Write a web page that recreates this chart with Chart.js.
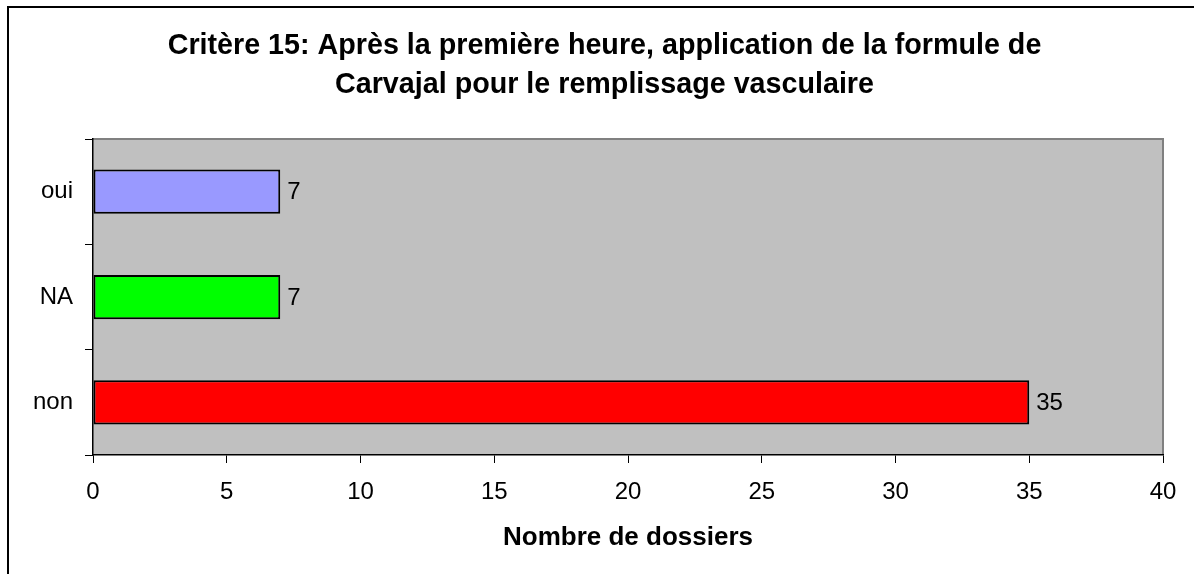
<!DOCTYPE html>
<html>
<head>
<meta charset="utf-8">
<script src="https://cdn.jsdelivr.net/npm/chart.js@4/dist/chart.umd.min.js"></script>
<style>
  body { margin: 0; background: #ffffff; }
  canvas { display: block; }
</style>
</head>
<body>
<canvas id="critereChart" width="1194" height="574"></canvas>
<script>
// Critère 15 - number of files per answer
const categories = ['oui', 'NA', 'non'];
const counts = [7, 7, 35];
const barColors = ['#9999ff', '#00ff00', '#ff0000'];
const xTicks = [0, 5, 10, 15, 20, 25, 30, 35, 40];

const titleLines = [
    'Critère 15: Après la première heure, application de la formule de',
    'Carvajal pour le remplissage vasculaire'
];
const xTitle = 'Nombre de dossiers';

const fontFamily = '"Liberation Sans", Arial, sans-serif';

// grey plot background, frame around the whole chart, and the value labels
const decorPlugin = {
    id: 'decor',
    afterLayout(chart) {
        // the title in the original sits a bit right of the canvas centre
        chart.titleBlock.left = 46;
    },
    beforeDraw(chart) {
        const { ctx, chartArea } = chart;
        ctx.save();
        ctx.fillStyle = '#ffffff';
        ctx.fillRect(0, 0, chart.width, chart.height);
        ctx.fillStyle = '#c0c0c0';
        ctx.fillRect(chartArea.left, chartArea.top, chartArea.right - chartArea.left, chartArea.bottom - chartArea.top);
        ctx.strokeStyle = '#808080';
        ctx.lineWidth = 2;
        ctx.beginPath();
        ctx.moveTo(chartArea.left, chartArea.top);
        ctx.lineTo(chartArea.right, chartArea.top);
        ctx.lineTo(chartArea.right, chartArea.bottom);
        ctx.stroke();
        // outer frame (right and bottom run off the picture)
        ctx.strokeStyle = '#000000';
        ctx.lineWidth = 2;
        ctx.strokeRect(8, 7, chart.width + 10, chart.height + 10);
        ctx.restore();
    },
    afterDatasetsDraw(chart) {
        const { ctx } = chart;
        const xScale = chart.scales.x;
        const yScale = chart.scales.y;
        ctx.save();
        ctx.fillStyle = '#000000';
        ctx.font = '24px ' + fontFamily;
        ctx.textAlign = 'left';
        ctx.textBaseline = 'middle';
        counts.forEach((v, i) => {
            ctx.fillText(String(v), xScale.getPixelForValue(v) + 7, yScale.getPixelForValue(i) + 1);
        });
        ctx.restore();
    }
};

const ctx = document.getElementById('critereChart').getContext('2d');
const critereChart = new Chart(ctx, {
    type: 'bar',
    data: {
        labels: categories,
        datasets: [{
            data: counts,
            backgroundColor: barColors,
            borderColor: '#000000',
            borderWidth: 2,
            borderSkipped: false,
            categoryPercentage: 1,
            barPercentage: 0.42
        }]
    },
    options: {
        indexAxis: 'y',
        responsive: false,
        animation: false,
        layout: {
            padding: { left: 0, right: 31, top: 0, bottom: 0 }
        },
        plugins: {
            legend: { display: false },
            tooltip: { enabled: false },
            title: {
                display: true,
                text: titleLines,
                color: '#000000',
                font: { family: fontFamily, size: 28.7, weight: 'bold', lineHeight: 1.36 },
                padding: { top: 27, bottom: 34 }
            }
        },
        scales: {
            x: {
                min: 0,
                max: 40,
                afterBuildTicks(scale) {
                    scale.ticks = xTicks.map(v => ({ value: v }));
                },
                afterFit(scale) {
                    scale.height = 119;
                },
                ticks: {
                    color: '#000000',
                    font: { family: fontFamily, size: 24 },
                    padding: 15
                },
                grid: {
                    drawOnChartArea: false,
                    drawTicks: true,
                    tickLength: 8,
                    color: '#000000'
                },
                border: { display: true, color: '#000000', width: 1.5 },
                title: {
                    display: true,
                    text: xTitle,
                    color: '#000000',
                    font: { family: fontFamily, size: 26, weight: 'bold' },
                    padding: { top: 0, bottom: 21 }
                }
            },
            y: {
                afterFit(scale) {
                    scale.width = 93;
                },
                ticks: {
                    color: '#000000',
                    font: { family: fontFamily, size: 24 },
                    padding: 12
                },
                grid: {
                    offset: true,
                    drawOnChartArea: false,
                    drawTicks: true,
                    tickLength: 8,
                    color: '#000000'
                },
                border: { display: true, color: '#000000', width: 1.5 }
            }
        }
    },
    plugins: [decorPlugin]
});
</script>
</body>
</html>
